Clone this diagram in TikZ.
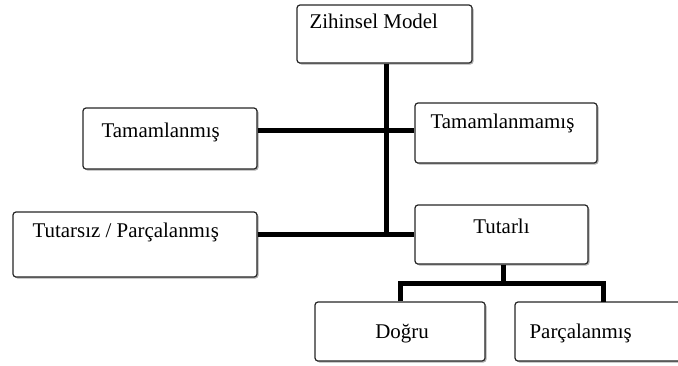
\documentclass[tikz,border=0pt]{standalone}
\usepackage{fontspec}
\setmainfont{Liberation Serif}
\usetikzlibrary{calc,shadows}
\begin{document}
\begin{tikzpicture}[x=1bp,y=-1bp,
  box/.style={draw=black!85, line width=1.2bp, rounded corners=3bp, fill=white, inner sep=0pt,
    drop shadow={shadow xshift=1.5bp, shadow yshift=-1.5bp, fill=black!45, opacity=.7}},
  lbl/.style={inner sep=0pt, font=\fontsize{21}{24}\selectfont},
  bar/.style={line width=5bp}]
\useasboundingbox (0,0) rectangle (678,365);

\node[box, minimum width=175bp, minimum height=58bp] (zm) at (384.5,34) {};
\node[box, minimum width=174bp, minimum height=61bp] (tm) at (170,138.5) {};
\node[box, minimum width=182bp, minimum height=60bp] (tmm) at (506,133) {};
\node[box, minimum width=244bp, minimum height=65bp] (ts) at (135,244.5) {};
\node[box, minimum width=173bp, minimum height=59bp] (tl) at (501.5,234.5) {};
\node[box, minimum width=170bp, minimum height=59bp] (dg) at (400,331.5) {};
\node[box, minimum width=180bp, minimum height=59bp] (pc) at (605,331.5) {};

\node[lbl, anchor=base west] (zmt) at ($(zm.north west)+(13,24)$) {Zihinsel Model};
\node[lbl, anchor=base west] (tmt) at ($(tm.north west)+(19,30)$) {Tamamlanmış};
\node[lbl, anchor=base west] (tmmt) at ($(tmm.north west)+(16,26)$) {Tamamlanmamış};
\node[lbl, anchor=base west] (tst) at ($(ts.north west)+(20,26)$) {Tutarsız / Parçalanmış};
\node[lbl, anchor=base] (tlt) at ($(tl.north)+(0,29)$) {Tutarlı};
\node[lbl, anchor=base] (dgt) at ($(dg.north)+(2,37)$) {Doğru};
\node[lbl, anchor=base west] (pct) at ($(pc.north west)+(15,37)$) {Parçalanmış};

\coordinate (j1) at (386,130);
\coordinate (j2) at (503,283);
\draw[bar] (zm.south -| j1) -- (j1 |- tl.west);
\draw[bar] (tm.east |- j1) -- (tmm.west |- j1);
\draw[bar] (ts.east |- tl.west) -- (tl.west);
\draw[bar] (tl.south -| j2) -- (j2);
\draw[bar] (dg.north) -- (dg.north |- j2) -- (603,283) -- (603,302);
\end{tikzpicture}
\end{document}
